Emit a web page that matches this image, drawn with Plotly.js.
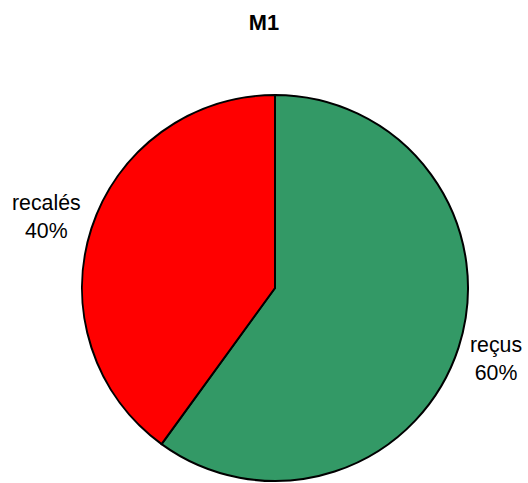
<!DOCTYPE html>
<html><head><meta charset="utf-8">
<script src="https://cdn.plot.ly/plotly-3.0.1.min.js"></script>
<style>html,body{margin:0;padding:0;background:#fff}</style>
</head><body>
<div id="chart" style="width:528px;height:483px"></div>
<script>
const labels = ["reçus", "recalés"];
const values = [60, 40];
const colors = ["#339966", "#FF0000"];
const chartTitle = "M1";

const W = 528, H = 483;
const total = values.reduce((a, b) => a + b, 0);
const pct = values.map(v => Math.round(100 * v / total) + "%");
// label anchor positions (pixels) for each slice label
const labelPos = [[495.5, 359], [46.5, 217]];
const FONT = "Liberation Sans, Arial, sans-serif";

Plotly.newPlot("chart", [{
  type: "pie",
  labels: labels,
  values: values,
  sort: false,
  direction: "clockwise",
  rotation: 0,
  marker: {colors: colors, line: {color: "#000", width: 2}},
  textinfo: "none",
  hoverinfo: "none",
  showlegend: false,
  automargin: false,
  domain: {x: [80/W, 470/W], y: [2/H, 388/H]}
}], {
  width: W, height: H,
  margin: {l: 0, r: 0, t: 0, b: 0},
  paper_bgcolor: "#fff",
  title: {text: "<b>" + chartTitle + "</b>", x: 0.5, xanchor: "center", y: 1 - 22/H, yanchor: "middle",
          font: {family: FONT, size: 21.8, color: "#000"}},
  annotations: labels.map((l, i) => ({
    xref: "paper", yref: "paper",
    x: labelPos[i][0] / W, y: 1 - labelPos[i][1] / H,
    xanchor: "center", yanchor: "middle",
    text: l + "<br>" + pct[i],
    showarrow: false, align: "center",
    font: {family: FONT, size: 21.3, color: "#000"}
  })),
  showlegend: false
}, {displayModeBar: false, staticPlot: true});
</script>
</body></html>
